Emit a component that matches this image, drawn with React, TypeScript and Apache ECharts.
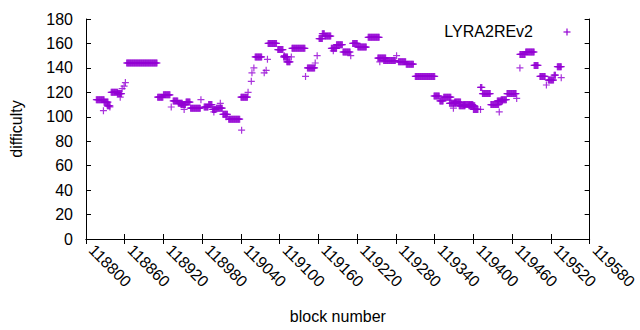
import React, { useEffect, useRef } from "react";
import * as echarts from "echarts";

// Runs of consecutive blocks: start block, number of blocks, difficulty
const runStart = [
  118816, 118827, 118828, 118833, 118837, 118839, 118849, 118853, 118856, 118859,
  118861, 118863, 118911, 118920, 118932, 118935, 118943, 118952, 118947, 118955,
  118962, 118978, 118983, 118990, 118996, 118998, 119002, 119008, 119012, 119017,
  119021, 119041, 119040, 119051, 119056, 119057, 119060, 119062, 119076, 119079,
  119081, 119082, 119097, 119107, 119106, 119111, 119118, 119119, 119140, 119143,
  119155, 119158, 119161, 119166, 119170, 119183, 119180, 119188, 119198, 119210,
  119213, 119221, 119237, 119252, 119255, 119261, 119281, 119284, 119296, 119310,
  119339, 119348, 119354, 119363, 119369, 119371, 119378, 119385, 119393, 119400,
  119411, 119411, 119414, 119427, 119440, 119437, 119443, 119452, 119467, 119472,
  119472, 119481, 119494, 119503, 119513, 119516, 119525, 119530, 119536,
];
const runLength = [
  13, 1, 7, 5, 1, 11, 7, 1, 1, 1,
  1, 48, 9, 11, 1, 8, 7, 1, 8, 7,
  16, 1, 7, 6, 6, 1, 10, 1, 8, 1,
  18, 1, 11, 1, 1, 1, 1, 11, 1, 1,
  1, 14, 9, 1, 7, 6, 1, 21, 1, 12,
  1, 1, 6, 4, 10, 1, 9, 10, 12, 1,
  8, 14, 18, 13, 1, 19, 1, 12, 12, 31,
  9, 6, 12, 11, 1, 10, 10, 15, 10, 8,
  1, 3, 13, 13, 1, 9, 9, 15, 1, 1,
  9, 14, 7, 9, 1, 9, 3, 7, 1,
];
const runValue = [
  114, 105, 112, 109, 108, 120, 119, 116, 123, 125,
  128, 144, 116, 118, 108, 113, 111, 106, 110, 112,
  107, 114, 108, 110, 106, 104, 107, 111, 102, 100,
  98, 89, 116, 120, 129, 136, 140, 149, 136, 138,
  147, 160, 155, 150, 149, 145, 149, 156, 133, 140,
  144, 150, 164, 168, 166, 154, 156, 159, 153, 150,
  160, 157, 165, 148, 145, 146, 150, 145, 143, 133,
  117, 113, 116, 111, 107, 112, 109, 110, 109, 106,
  106, 124, 119, 110, 104, 113, 114, 119, 115, 140,
  151, 153, 142, 133, 126, 130, 134, 141, 132,
];

const seriesName = "LYRA2REv2";
const xTickMin = 118800;
const xTickMax = 119580;
const xTickStep = 60;
const yTickMin = 0;
const yTickMax = 180;
const yTickStep = 20;

const COLOR = "#9400d3";
const FONT = "'Liberation Sans', Arial, sans-serif";
const FS = 16;
const PLUS = "path://M0,5L10,5M5,0L5,10";

export default function App() {
  const ref = useRef<HTMLDivElement>(null);
  useEffect(() => {
    if (!ref.current) return;
    document.body.style.margin = "0";
    const chart = echarts.init(ref.current, undefined, { renderer: "svg" });
    const points: number[][] = [];
    runStart.forEach((s, i) => {
      for (let k = 0; k < runLength[i]; k++) points.push([s + k, runValue[i]]);
    });
    const axisLine = { show: true, lineStyle: { color: "#000", width: 1 } };
    const tick = { show: true, inside: true, length: 5, lineStyle: { color: "#000" } };
    const plain = (v: number) => String(v);
    chart.setOption({
      animation: false,
      textStyle: { fontFamily: FONT },
      grid: { left: 84, right: 30, top: 19, bottom: 91, containLabel: false },
      xAxis: [
        {
          type: "value", position: "bottom", min: xTickMin, max: xTickMax, interval: xTickStep,
          axisLine, axisTick: tick, splitLine: { show: false },
          axisLabel: {
            rotate: -45, color: "#000", fontSize: FS, fontFamily: FONT, margin: 14,
            align: "left", verticalAlign: "bottom",
            formatter: plain, showMaxLabel: true, showMinLabel: true,
          },
          name: "block number", nameLocation: "middle", nameGap: 69,
          nameTextStyle: { color: "#000", fontSize: FS, fontFamily: FONT },
        },
        {
          type: "value", position: "top", min: xTickMin, max: xTickMax, interval: xTickStep,
          axisLine, axisTick: tick, axisLabel: { show: false }, splitLine: { show: false },
        },
      ],
      yAxis: [
        {
          type: "value", position: "left", min: yTickMin, max: yTickMax, interval: yTickStep,
          axisLine, axisTick: tick, splitLine: { show: false },
          axisLabel: { color: "#000", fontSize: FS, fontFamily: FONT, margin: 13, formatter: plain },
          name: "difficulty", nameLocation: "middle", nameGap: 62, nameRotate: 90,
          nameTextStyle: { color: "#000", fontSize: FS, fontFamily: FONT },
        },
        {
          type: "value", position: "right", min: yTickMin, max: yTickMax, interval: yTickStep,
          axisLine, axisTick: tick, axisLabel: { show: false }, splitLine: { show: false },
        },
      ],
      series: [
        {
          name: seriesName, type: "scatter", data: points, symbol: PLUS, symbolSize: 7,
          silent: true, itemStyle: { color: "none", borderColor: COLOR, borderWidth: 1.2 },
          emphasis: { disabled: true },
        },
      ],
      graphic: [
        { type: "text", right: 640 - 533, top: 23, style: { text: seriesName, fill: "#000", font: `${FS}px ${FONT}` } },
        { type: "line", shape: { x1: 563.5, y1: 32, x2: 570.5, y2: 32 }, style: { stroke: COLOR, lineWidth: 1.2 } },
        { type: "line", shape: { x1: 567, y1: 28.5, x2: 567, y2: 35.5 }, style: { stroke: COLOR, lineWidth: 1.2 } },
      ],
    });
    return () => chart.dispose();
  }, []);
  return <div ref={ref} style={{ width: 640, height: 330 }} />;
}
